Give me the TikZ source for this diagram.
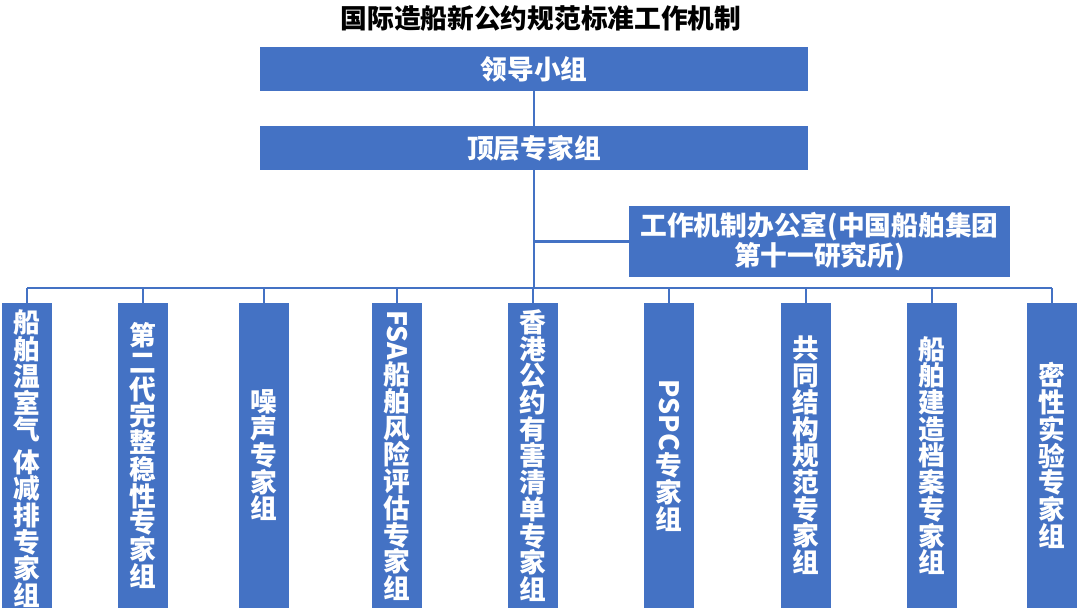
\documentclass[tikz,border=0pt]{standalone}
\usepackage{fontspec}
\usepackage{graphicx}
\newfontfamily\cjkfont{Noto Sans CJK SC}
\definecolor{boxblue}{HTML}{4472C4}
\tikzset{
  txt/.style={font=\cjkfont\bfseries\fontsize{19}{19}\selectfont, text=white, align=center},
  topbox/.style={txt, fill=boxblue, minimum width=13.7cm, minimum height=1.1cm},
  officebox/.style={topbox, minimum width=9.5cm, minimum height=1.775cm,
    font=\cjkfont\bfseries\fontsize{19}{21.3}\selectfont},
  groupbox/.style={txt, fill=boxblue, inner sep=0pt, minimum width=1.25cm, minimum height=7.625cm},
  link/.style={draw=boxblue, line width=2pt}
}

\begin{document}
\begin{tikzpicture}[x=0.025cm, y=-0.025cm]
	\clip (0, 0) rectangle (1080, 608);
	\node[txt, text=black] (title) at (541, 18) {国际造船新公约规范标准工作机制};
	\node[topbox] (lead) at (534, 69) {领导小组};
	\node[topbox] (expert) at (534, 148) {顶层专家组};
	\node[officebox] (office) at (819.5, 241.5) {工作机制办公室(中国船舶集团\\第十一研究所)};
	\coordinate (bus) at (534, 288);

	\node[groupbox] (g1) at (27, 455.5) {};
	\node[txt, anchor=north] (g1text) at (27, 305) {船\\舶\\温\\室\\气\\[4pt]体\\减\\排\\专\\家\\组};
	\node[groupbox] (g2) at (143, 455.5) {第\\二\\代\\完\\整\\稳\\性\\专\\家\\组};
	\node[groupbox] (g3) at (264, 455.5) {噪\\声\\专\\家\\组};
	\node[groupbox] (g4) at (397, 455.5) {\rotatebox{-90}{FSA}\\船\\舶\\风\\险\\评\\估\\专\\家\\组};
	\node[groupbox] (g5) at (533, 455.5) {香\\港\\公\\约\\有\\害\\清\\单\\专\\家\\组};
	\node[groupbox] (g6) at (669, 455.5) {\rotatebox{-90}{PSPC}\\专\\家\\组};
	\node[groupbox] (g7) at (806, 455.5) {共\\同\\结\\构\\规\\范\\专\\家\\组};
	\node[groupbox] (g8) at (932, 455.5) {船\\舶\\建\\造\\档\\案\\专\\家\\组};
	\node[groupbox] (g9) at (1052, 455.5) {密\\性\\实\\验\\专\\家\\组};

	\draw[link] (lead) -- (expert);
	\draw[link] (expert) -- (bus);
	\draw[link] (office.west -| expert.south) -- (office.west);
	\draw[link] (g1.north |- bus) -- (g9.north |- bus);
	\foreach \g in {g1, g2, g3, g4, g5, g6, g7, g8, g9}
		\draw[link] (\g.north |- bus) -- (\g.north);
\end{tikzpicture}
\end{document}
